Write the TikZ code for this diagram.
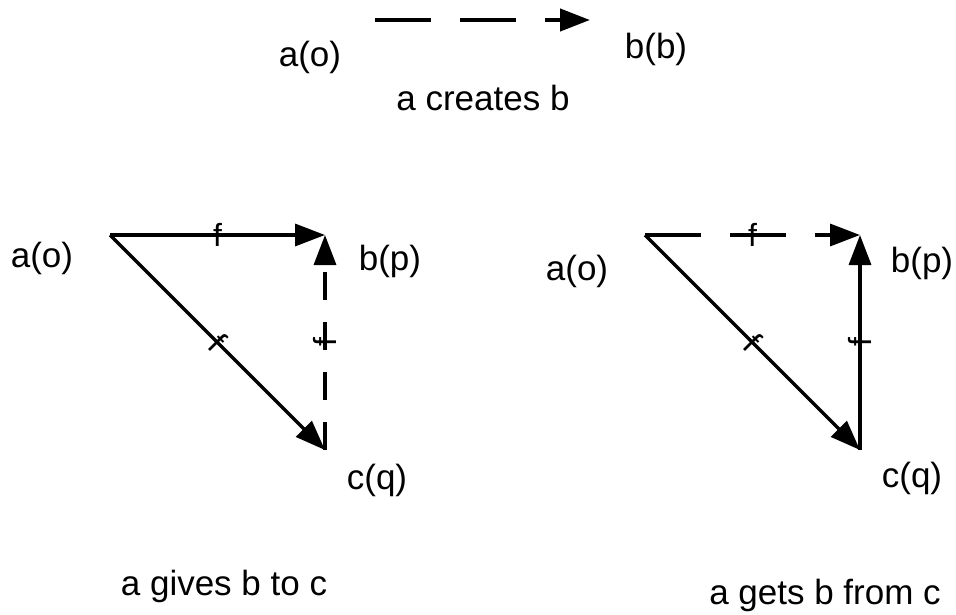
\documentclass[tikz,border=0pt]{standalone}
\usepackage{fontspec}
\setmainfont{Liberation Sans}
\usetikzlibrary{arrows.meta}
\begin{document}
\begin{tikzpicture}[x=1pt,y=-1pt,
  lbl/.style={font=\fontsize{35}{38}\selectfont, inner sep=0pt},
  arr/.style={line width=3.4pt, -{Triangle[length=30pt,width=22pt]}},
  dsh/.style={dash pattern=on 56pt off 29pt},
  flab/.style={font=\fontsize{32}{34}\selectfont, inner sep=0pt, sloped}]
\useasboundingbox (0,0) rectangle (956,614);
% top
\node[lbl] (ta) at (310,57) {a(o)};
\node[lbl] (tb) at (656,49) {b(b)};
\node[lbl] (tc) at (483,98) {a creates b};
\coordinate (ts) at (375,20);
\coordinate (te) at (590,20);
\draw[arr,dsh,line width=4.2pt] (ts) -- (te);
% left triangle
\coordinate (La) at (110,235);
\coordinate (Lb) at (325,235);
\coordinate (Lc) at (325,450);
\node[lbl] (Lao) at (42,258) {a(o)};
\node[lbl] (Lbp) at (390,261) {b(p)};
\node[lbl] (Lcq) at (377,480) {c(q)};
\node[lbl] (Lt) at (224,586) {a gives b to c};
\draw[arr] (La) -- node[flab]{f} (Lb);
\draw[arr] (La) -- node[flab]{f} (Lc);
\draw[arr,dash pattern=on 28pt off 22pt] (Lc) -- node[flab]{f} (Lb);
% right triangle
\coordinate (Ra) at (645,235);
\coordinate (Rb) at (860,235);
\coordinate (Rc) at (860,450);
\node[lbl] (Rao) at (577,271) {a(o)};
\node[lbl] (Rbp) at (922,263) {b(p)};
\node[lbl] (Rcq) at (912,478) {c(q)};
\node[lbl] (Rt) at (825,595) {a gets b from c};
\draw[arr,dsh] (Ra) -- node[flab]{f} (Rb);
\draw[arr] (Ra) -- node[flab]{f} (Rc);
\draw[arr] (Rc) -- node[flab]{f} (Rb);
\end{tikzpicture}
\end{document}
